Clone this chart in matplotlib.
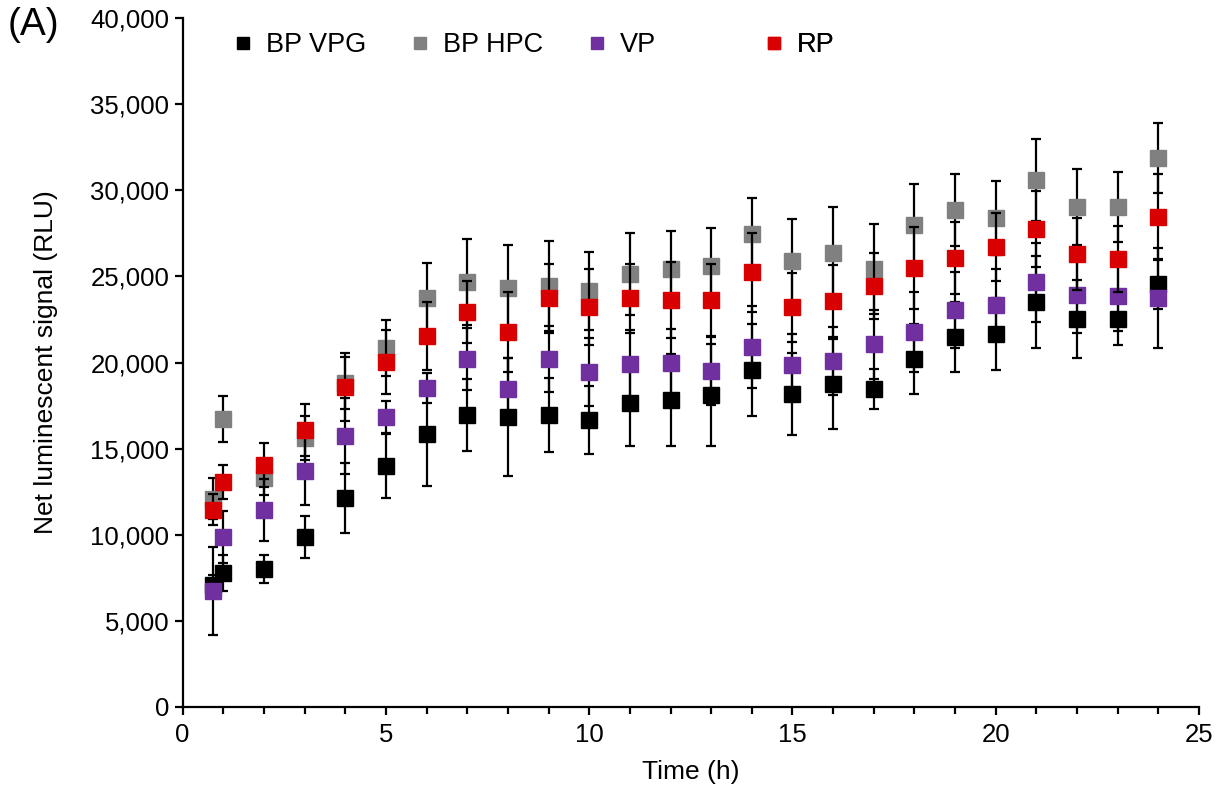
import matplotlib
matplotlib.use("Agg")
import matplotlib.pyplot as plt
from matplotlib.lines import Line2D
from matplotlib.ticker import FuncFormatter, MultipleLocator

# -----------------------------
# Data
# -----------------------------
time_h = [0.75, 1, 2, 3, 4, 5, 6, 7, 8, 9, 10, 11, 12, 13, 14, 15, 16, 17, 18, 19, 20, 21, 22, 23, 24]

bp_vpg = [7080, 7780, 8010, 9870, 12130, 13990, 15850, 16950, 16840, 16950, 16660, 17650, 17820,
          18110, 19560, 18170, 18750, 18460, 20200, 21480, 21650, 23510, 22530, 22530, 24560]
bp_vpg_sd = [600, 1050, 810, 1220, 2030, 1860, 3020, 2090, 3430, 2150, 1970, 2500, 2670,
             2960, 2670, 2380, 2610, 1160, 2030, 2030, 2090, 2670, 2270, 1510, 1450]

bp_hpc = [12080, 16720, 13290, 15620, 18800, 20840, 23740, 24670, 24330, 24440, 24150, 25140, 25430,
          25600, 27460, 25890, 26360, 25430, 27980, 28850, 28390, 30590, 29030, 29030, 31870]
bp_hpc_sd = [1200, 1340, 1000, 1300, 1500, 1630, 2040, 2500, 2490, 2610, 2270, 2380, 2200,
             2210, 2090, 2440, 2670, 2610, 2380, 2090, 2150, 2390, 2200, 2030, 2030]

vp = [6730, 9870, 11440, 13700, 15730, 16840, 18520, 20200, 18460, 20200, 19450, 19910, 19970,
      19510, 20900, 19850, 20090, 21070, 21770, 23050, 23340, 24670, 23920, 23860, 23740]
vp_sd = [2550, 1500, 1800, 2000, 2200, 930, 900, 1800, 1800, 1900, 2000, 2000, 2000,
         2000, 2400, 1800, 2000, 2000, 2300, 2200, 2100, 2300, 2200, 2000, 2900]

rp = [11440, 13060, 14050, 16080, 18580, 20030, 21540, 22930, 21770, 23740, 23220, 23740, 23630,
      23630, 25250, 23220, 23570, 24440, 25490, 26070, 26710, 27750, 26300, 26010, 28450]
rp_sd = [900, 1000, 1280, 1510, 2000, 1860, 2000, 1800, 2300, 2000, 2200, 2000, 2200,
         2100, 2300, 2000, 2100, 1900, 2400, 2100, 2000, 2200, 2100, 1900, 2500]

series = [
    ("BP VPG", bp_vpg, bp_vpg_sd, "#000000"),
    ("BP HPC", bp_hpc, bp_hpc_sd, "#808080"),
    ("VP", vp, vp_sd, "#7030A0"),
    ("RP", rp, rp_sd, "#D80000"),
]

# -----------------------------
# Plot
# -----------------------------
plt.rcParams["font.family"] = ["Liberation Sans", "DejaVu Sans"]

fig = plt.figure(figsize=(12.26, 7.95), dpi=100)
ax = fig.add_axes([0.149, 0.111, 0.829, 0.866])

handles = []
for i, (name, y, sd, color) in enumerate(series):
    ax.errorbar(time_h, y, yerr=sd, fmt="s", color=color, markersize=11.5,
                ecolor="black", elinewidth=1.6, capsize=3.5, capthick=1.6,
                zorder=2 + i)
    handles.append(Line2D([], [], marker="s", linestyle="none", color=color,
                          markersize=8, label=name))

ax.set_xlim(0, 25)
ax.set_ylim(0, 40000)
ax.xaxis.set_major_locator(MultipleLocator(5))
ax.xaxis.set_minor_locator(MultipleLocator(1))
ax.yaxis.set_major_locator(MultipleLocator(5000))
ax.yaxis.set_major_formatter(FuncFormatter(lambda v, p: f"{int(v):,}"))

for side in ["top", "right"]:
    ax.spines[side].set_visible(False)
for side in ["left", "bottom"]:
    ax.spines[side].set_linewidth(1.6)
ax.tick_params(which="major", direction="out", length=6, width=1.6, labelsize=18.5)
ax.tick_params(axis="x", which="major", pad=6)
ax.tick_params(axis="x", which="minor", direction="out", length=5, width=1.6)

ax.set_xlabel("Time (h)", fontsize=19)
ax.set_ylabel("Net luminescent signal (RLU)", fontsize=19)
ax.xaxis.set_label_coords(0.5, -0.077)
ax.yaxis.set_label_coords(-0.123, 0.5)

# legend entries sit in equal-width slots, like the original
for i, h in enumerate(handles):
    leg = ax.legend(handles=[h], loc="center left", bbox_to_anchor=(0.0458 + i * 0.1742, 0.961),
                    frameon=False, fontsize=19.5, handletextpad=0.35, handlelength=1.0,
                    borderpad=0, borderaxespad=0)
    ax.add_artist(leg)

fig.text(0.006, 0.968, "(A)", fontsize=28, ha="left", va="center")

plt.savefig("out.png", dpi=100)
plt.close()
